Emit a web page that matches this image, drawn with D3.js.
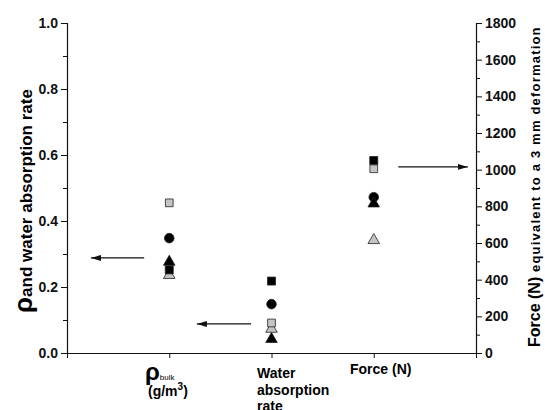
<!DOCTYPE html>
<html>
<head>
<meta charset="utf-8">
<script src="https://cdn.jsdelivr.net/npm/d3@7"></script>
<style>
  body { margin: 0; background: #fff; }
  text { font-family: "Liberation Sans", Arial, Helvetica, sans-serif; font-weight: bold; }
</style>
</head>
<body>
<div id="chart"></div>
<script>
// categories along the x axis (positions 1..3)
const categories = ["ρbulk", "Water absorption rate", "Force (N)"]

// values: first two on the left axis, the third (force) on the right axis
const blackSquare = [0.252, 0.218, 1050]
const graySquare = [0.455, 0.091, 1005]
const blackCircle = [0.348, 0.148, 850]
const blackTriangle = [0.276, 0.042, 815]
const grayTriangle = [0.236, 0.073, 615]

const leftTicks = [0, 0.2, 0.4, 0.6, 0.8, 1.0]
const leftMinor = [0.1, 0.3, 0.5, 0.7, 0.9]
const rightTicks = [0, 200, 400, 600, 800, 1000, 1200, 1400, 1600, 1800]
const rightMinor = [100, 300, 500, 700, 900, 1100, 1300, 1500, 1700]

const series = [
    { name: "grayTriangle", values: grayTriangle, shape: d3.symbolTriangle, size: 58, fill: "#c4c4c4" },
    { name: "blackSquare", values: blackSquare, shape: d3.symbolSquare, size: 64, fill: "#000" },
    { name: "graySquare", values: graySquare, shape: d3.symbolSquare, size: 60, fill: "#c4c4c4" },
    { name: "blackCircle", values: blackCircle, shape: d3.symbolCircle, size: 72, fill: "#000" },
    { name: "blackTriangle", values: blackTriangle, shape: d3.symbolTriangle, size: 58, fill: "#000" }
]

const width = 545
const height = 410
const margins = { top: 23, right: 69, bottom: 57, left: 67 }
const boundedWidth = width - margins.left - margins.right
const boundedHeight = height - margins.top - margins.bottom

const svg = d3.select("#chart").append("svg")
    .attr("width", width)
    .attr("height", height)

const bounds = svg.append("g")
    .attr("transform", `translate(${margins.left},${margins.top})`)

// scales
const xScale = d3.scaleLinear().domain([0, 4]).range([0, boundedWidth])
const yLeft = d3.scaleLinear().domain([0, 1]).range([boundedHeight, 0])
const yRight = d3.scaleLinear().domain([0, 1800]).range([boundedHeight, 0])

// axes
bounds.append("g")
    .call(d3.axisLeft(yLeft).tickValues(leftTicks).tickFormat(d3.format(".1f")).tickSize(6).tickPadding(3))
bounds.append("g")
    .call(d3.axisLeft(yLeft).tickValues(leftMinor).tickFormat("").tickSize(4))
    .select(".domain").remove()

bounds.append("g")
    .attr("transform", `translate(${boundedWidth},0)`)
    .call(d3.axisRight(yRight).tickValues(rightTicks).tickFormat(d3.format("d")).tickSize(6).tickPadding(3))
bounds.append("g")
    .attr("transform", `translate(${boundedWidth},0)`)
    .call(d3.axisRight(yRight).tickValues(rightMinor).tickFormat("").tickSize(4))
    .select(".domain").remove()

bounds.append("g")
    .attr("transform", `translate(0,${boundedHeight})`)
    .call(d3.axisBottom(xScale).tickValues([0, 1, 2, 3, 4]).tickFormat("").tickSize(5).tickSizeOuter(0))

bounds.selectAll(".domain").attr("stroke", "#111").attr("stroke-width", 1.2)
bounds.selectAll(".tick line").attr("stroke", "#111")
bounds.selectAll(".tick text").attr("font-size", 14).attr("fill", "#111")
    .style("font-family", "'Liberation Sans', Arial, sans-serif").style("font-weight", "bold")

// points
series.forEach(s => {
    bounds.selectAll(`.${s.name}`)
        .data(s.values)
        .enter().append("path")
        .attr("class", s.name)
        .attr("d", d3.symbol().type(s.shape).size(s.size))
        .attr("transform", (d, i) => {
            const y = i < 2 ? yLeft(d) : yRight(d)
            return `translate(${xScale(i + 1)},${y})`
        })
        .attr("fill", s.fill)
        .attr("stroke", "#222")
        .attr("stroke-width", 0.8)
})

// arrows pointing to the axis each group belongs to
svg.append("defs").append("marker")
    .attr("id", "head")
    .attr("viewBox", "0 0 10 6")
    .attr("refX", 10).attr("refY", 3)
    .attr("markerWidth", 10).attr("markerHeight", 6)
    .attr("markerUnits", "userSpaceOnUse")
    .attr("orient", "auto")
    .append("path").attr("d", "M0,0L10,3L0,6Z").attr("fill", "#111")

const arrows = [
    { x1: 0.755, x2: 0.235, y: yLeft(0.288) },
    { x1: 1.8, x2: 1.27, y: yLeft(0.088) },
    { x1: 3.24, x2: 3.92, y: yRight(1015) }
]
bounds.selectAll(".arrow")
    .data(arrows)
    .enter().append("line")
    .attr("class", "arrow")
    .attr("x1", d => xScale(d.x1)).attr("x2", d => xScale(d.x2))
    .attr("y1", d => d.y).attr("y2", d => d.y)
    .attr("stroke", "#111").attr("stroke-width", 1.2)
    .attr("marker-end", "url(#head)")

// category labels
const cat1 = svg.append("text").attr("x", 145).attr("y", 380).attr("fill", "#000")
cat1.append("tspan").attr("font-size", 24).text("ρ")
cat1.append("tspan").attr("font-size", 8).attr("font-weight", "normal").text("bulk")
const cat1b = svg.append("text").attr("x", 148).attr("y", 396).attr("font-size", 14).attr("fill", "#000")
cat1b.append("tspan").text("(g/m")
cat1b.append("tspan").attr("font-size", 10).attr("dy", -6).text("3")
cat1b.append("tspan").attr("dy", 6).text(")")

const waterLines = ["Water", "absorption", "rate"]
svg.append("text").attr("x", 257).attr("y", 378).attr("font-size", 14).attr("fill", "#000")
    .selectAll("tspan").data(waterLines).enter().append("tspan")
    .attr("x", 257).attr("dy", (d, i) => i === 0 ? 0 : 16.5).text(d => d)

svg.append("text").attr("x", 350).attr("y", 374).attr("font-size", 14).attr("fill", "#000")
    .text(categories[2])

// left axis title
const leftTitle = svg.append("text")
    .attr("transform", "translate(32,313) rotate(-90)")
    .attr("fill", "#000")
leftTitle.append("tspan").attr("font-size", 26).text("ρ")
leftTitle.append("tspan").attr("font-size", 17).text("and water absorption rate")

// right axis title
const rightTitle = svg.append("text")
    .attr("transform", "translate(540,347) rotate(-90)")
    .attr("fill", "#000")
rightTitle.append("tspan").attr("font-size", 16).text("Force (N)")
rightTitle.append("tspan").attr("font-size", 13).attr("letter-spacing", 1.2)
    .text(" equivalent to a 3 mm deformation")
</script>
</body>
</html>
